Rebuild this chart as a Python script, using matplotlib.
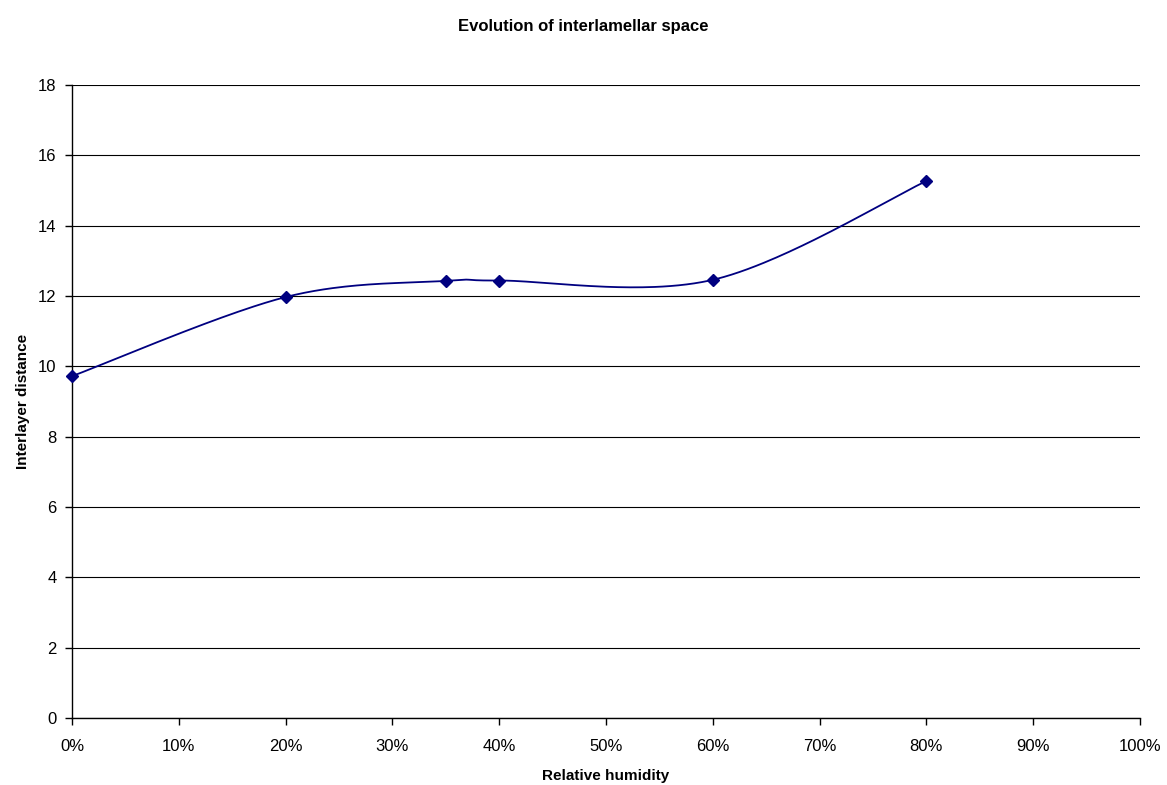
import numpy as np
import matplotlib
matplotlib.use("Agg")
import matplotlib.pyplot as plt
from matplotlib.ticker import FuncFormatter

humidity = [0.0, 0.20, 0.35, 0.40, 0.60, 0.80]
distance = [9.72, 11.97, 12.43, 12.44, 12.46, 15.27]
title = "Evolution of interlamellar space"
xlabel = "Relative humidity"
ylabel = "Interlayer distance"

plt.rcParams['font.family'] = ['Liberation Sans', 'DejaVu Sans']
fig = plt.figure(figsize=(11.67, 7.85), dpi=100)
ax = fig.add_axes([0.0617, 0.0854, 0.9152, 0.8063])
ax.set_xlim(0, 1)
ax.set_ylim(0, 18)
fig.canvas.draw()

# Excel-style smoothed line: cubic Bezier with Catmull-Rom control points in display space
pts = ax.transData.transform(np.column_stack([humidity, distance]))
n = len(pts)
curve = []
for i in range(n - 1):
    p0 = pts[i - 1] if i > 0 else pts[i]
    p1 = pts[i]
    p2 = pts[i + 1]
    p3 = pts[i + 2] if i + 2 < n else pts[i + 1]
    c1 = p1 + (p2 - p0) / 6.0
    c2 = p2 - (p3 - p1) / 6.0
    t = np.linspace(0, 1, 60)[:, None]
    seg = (1 - t) ** 3 * p1 + 3 * (1 - t) ** 2 * t * c1 + 3 * (1 - t) * t ** 2 * c2 + t ** 3 * p2
    curve.append(seg if i == 0 else seg[1:])
curve = np.vstack(curve)
curve_data = ax.transData.inverted().transform(curve)

ax.plot(curve_data[:, 0], curve_data[:, 1], color='#000080', lw=1.3, zorder=3, clip_on=False)
ax.plot(humidity, distance, linestyle='none', marker='D', markersize=6,
        color='#000080', zorder=4, clip_on=False)

ax.set_yticks(np.arange(0, 19, 2))
ax.set_xticks(np.arange(0, 1.01, 0.1))
ax.xaxis.set_major_formatter(FuncFormatter(lambda v, p: f"{int(round(v * 100))}%"))
ax.grid(axis='y', color='black', lw=0.8)
ax.set_axisbelow(True)
for s in ['top', 'right']:
    ax.spines[s].set_visible(False)
for s in ['left', 'bottom']:
    ax.spines[s].set_linewidth(1.0)
ax.tick_params(axis='both', direction='out', length=5, width=1, labelsize=12)
ax.tick_params(axis='x', pad=10)
ax.tick_params(axis='y', pad=6)

ax.set_xlabel(xlabel, fontsize=11, fontweight='bold', labelpad=11)
ax.set_ylabel(ylabel, fontsize=11, fontweight='bold', labelpad=6)
fig.suptitle(title, fontsize=12, fontweight='bold', y=0.976)

fig.savefig("out.png", dpi=100)
